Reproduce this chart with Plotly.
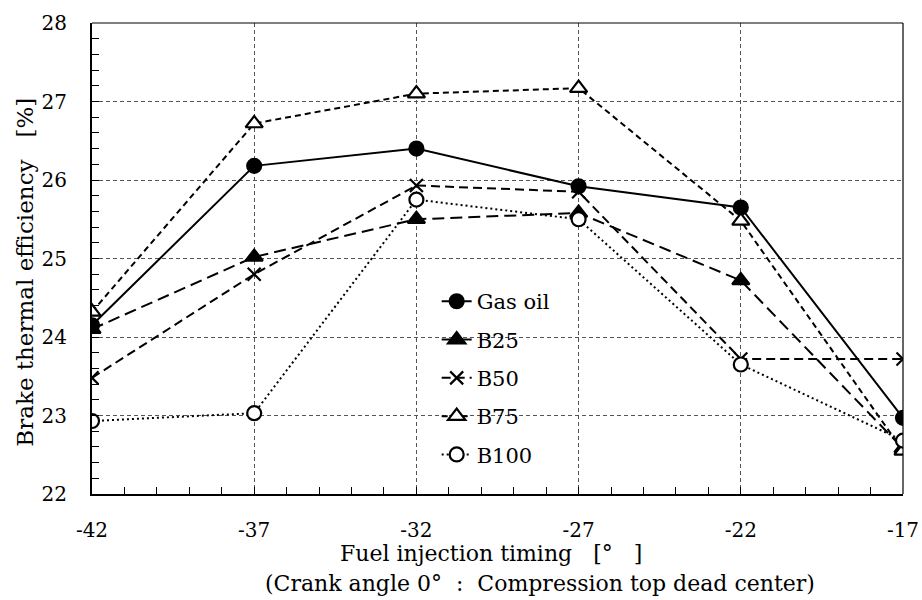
import plotly.graph_objects as go

timing = [-42, -37, -32, -27, -22, -17]
series_names = ["Gas oil", "B25", "B50", "B75", "B100"]
gas_oil = [24.15, 26.18, 26.40, 25.92, 25.65, 22.97]
b25 = [24.10, 25.02, 25.50, 25.58, 24.72, 22.58]
b50 = [23.48, 24.80, 25.93, 25.85, 23.72, 23.72]
b75 = [24.32, 26.72, 27.10, 27.17, 25.48, 22.55]
b100 = [22.93, 23.03, 25.75, 25.50, 23.65, 22.68]
x_ticks = [-42, -37, -32, -27, -22, -17]
y_ticks = [22, 23, 24, 25, 26, 27, 28]

FONT = "DejaVu Serif"
NB = "\u00a0"

styles = [
    dict(data=gas_oil, dash="solid", symbol="circle", fill="black", size=14),
    dict(data=b25, dash="12px,6px", symbol="triangle-up", fill="black", size=15),
    dict(data=b50, dash="9px,5px", symbol="x-thin-open", fill="black", size=13),
    dict(data=b75, dash="6px,4px", symbol="triangle-up", fill="white", size=15),
    dict(data=b100, dash="2px,3px", symbol="circle", fill="white", size=14),
]

fig = go.Figure()
for i, (name, st) in enumerate(zip(series_names, styles)):
    fig.add_trace(go.Scatter(
        x=timing, y=st["data"], name=name, mode="lines+markers",
        legendgroup=f"g{i}",
        line=dict(color="black", width=2, dash=st["dash"]),
        marker=dict(symbol=st["symbol"], size=st["size"], color=st["fill"],
                    line=dict(color="black", width=2.2)),
    ))

fig.update_layout(
    width=922, height=600,
    margin=dict(l=92, r=19, t=23, b=106),
    paper_bgcolor="white", plot_bgcolor="white",
    font=dict(family=FONT, size=21, color="black"),
    showlegend=True,
    legend=dict(x=0.425, y=0.452, xanchor="left", yanchor="top",
                bgcolor="rgba(0,0,0,0)", font=dict(size=21, family=FONT),
                tracegroupgap=8, itemwidth=30),
    xaxis=dict(range=[-42, -17], tickvals=x_ticks, ticktext=[str(v) for v in x_ticks],
               showgrid=True, gridcolor="#555", griddash="4px,3px", gridwidth=1,
               showline=True, linecolor="black", linewidth=2,
               ticks="inside", ticklen=0, zeroline=False, automargin=False,
               minor=dict(dtick=1, ticks="inside", ticklen=7, tickcolor="black", showgrid=False),
               ticklabelstandoff=17, tickfont=dict(size=20, family=FONT)),
    yaxis=dict(range=[22, 28], tickvals=y_ticks,
               showgrid=True, gridcolor="#555", griddash="4px,3px", gridwidth=1,
               showline=True, linecolor="black", linewidth=2,
               ticks="inside", ticklen=0, zeroline=False, automargin=False,
               minor=dict(dtick=0.2, ticks="inside", ticklen=7, tickcolor="black", showgrid=False),
               ticklabelstandoff=19, tickfont=dict(size=20, family=FONT)),
)

# thin top/right frame
fig.add_shape(type="line", xref="paper", yref="paper", x0=0, x1=1, y0=1, y1=1,
              line=dict(color="black", width=1.2))
fig.add_shape(type="line", xref="paper", yref="paper", x0=1, x1=1, y0=0, y1=1,
              line=dict(color="black", width=1.2))

fig.add_annotation(text="Brake thermal efficiency" + NB * 3 + "[%]", xref="paper", yref="paper",
                   x=-0.082, y=0.471, xanchor="center", yanchor="middle", textangle=-90,
                   showarrow=False, font=dict(size=23, family=FONT))
fig.add_annotation(text="Fuel injection timing" + NB * 3 + "[°" + NB * 3 + "]", xref="paper", yref="paper",
                   x=0.492, y=-0.126, xanchor="center", yanchor="middle",
                   showarrow=False, font=dict(size=22, family=FONT))
fig.add_annotation(text="(Crank angle 0°" + NB * 2 + ":" + NB * 2 + "Compression top dead center)",
                   xref="paper", yref="paper",
                   x=0.552, y=-0.19, xanchor="center", yanchor="middle",
                   showarrow=False, font=dict(size=22, family=FONT))

fig.write_html("out.html", config={"displayModeBar": False},
               post_script="document.body.style.margin='0';document.body.style.padding='0';")
